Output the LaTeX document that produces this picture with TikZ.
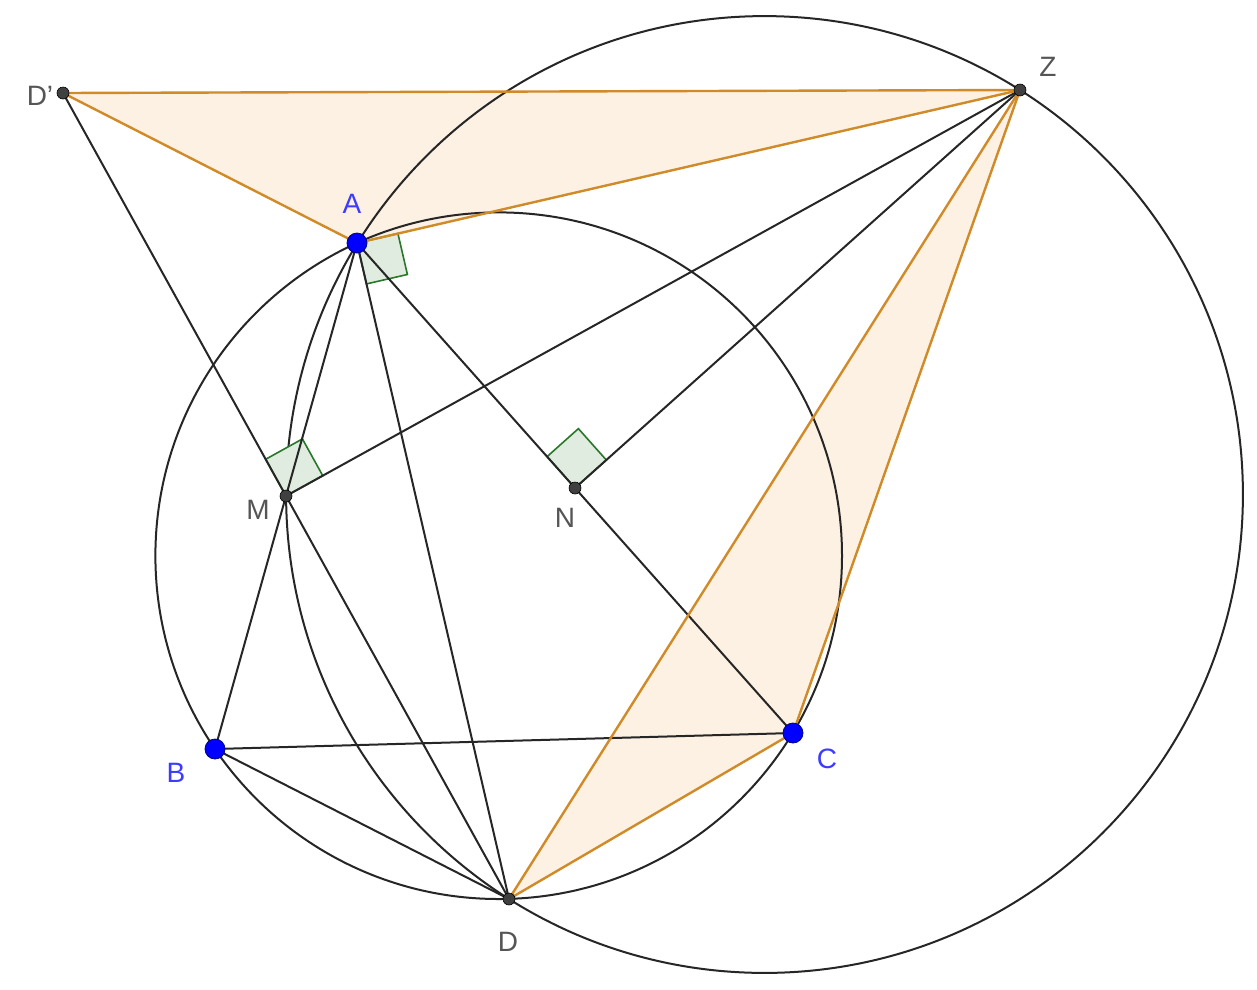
\documentclass[tikz,border=0pt]{standalone}
\usepackage{fontspec}
\setmainfont{Liberation Sans}
\usetikzlibrary{calc}
\definecolor{ggorange}{RGB}{208,138,40}
\definecolor{ggfill}{RGB}{253,241,227}
\definecolor{gggreen}{RGB}{40,120,40}
\definecolor{gggreenfill}{RGB}{224,236,224}
\definecolor{ggblue}{RGB}{0,0,255}
\definecolor{lblblue}{RGB}{60,60,255}
\definecolor{lblgray}{RGB}{85,85,85}
\begin{document}
\begin{tikzpicture}[x=1pt,y=-1pt,
  seg/.style={draw=black!85, line width=2pt},
  oseg/.style={draw=ggorange, line width=2.4pt},
  circ/.style={draw=black!85, line width=2pt},
  rmark/.style={draw=gggreen, fill=gggreenfill, line width=1.6pt},
  freept/.style={circle, fill=ggblue, draw=blue!50!black, line width=0.8pt, inner sep=0pt, minimum size=20pt},
  dept/.style={circle, fill=black!75, draw=black, line width=0.6pt, inner sep=0pt, minimum size=12pt},
  blbl/.style={text=lblblue, font=\fontsize{28}{28}\selectfont},
  glbl/.style={text=lblgray, font=\fontsize{28}{28}\selectfont}]
\useasboundingbox (0,0) rectangle (1257,989);
\fill[white] (0,0) rectangle (1257,989);
% points
\coordinate (A) at (357,243);
\coordinate (B) at (215,749);
\coordinate (C) at (793,733);
\coordinate (D) at (509,899);
\coordinate (Z) at (1020,90);
\coordinate (Dp) at (63,93);
\coordinate (M) at ($(A)!0.5!(B)$);
\coordinate (N) at ($(A)!0.5!(C)$);
\coordinate (O) at (498.7,555.7);
\coordinate (P) at ($(Z)!0.5!(D)$);
% fills
\fill[ggfill] (Dp) -- (A) -- (Z) -- cycle;
\fill[ggfill] (Z) -- (D) -- (C) -- cycle;
% circles
\draw[circ] (O) circle[radius=343.3pt];
\draw[circ] (P) circle[radius=478.4pt];
% right-angle markers
\coordinate (a1) at ($(A)!42pt!(Z)$);
\coordinate (a2) at ($(A)!42pt!(D)$);
\filldraw[rmark] (A) -- (a1) -- ($(a1)+(a2)-(A)$) -- (a2) -- cycle;
\coordinate (m1) at ($(M)!42pt!(Dp)$);
\coordinate (m2) at ($(M)!42pt!(Z)$);
\filldraw[rmark] (M) -- (m1) -- ($(m1)+(m2)-(M)$) -- (m2) -- cycle;
\coordinate (n1) at ($(N)!42pt!(A)$);
\coordinate (n2) at ($(N)!42pt!(Z)$);
\filldraw[rmark] (N) -- (n1) -- ($(n1)+(n2)-(N)$) -- (n2) -- cycle;
% black segments
\draw[seg] (A) -- (M) -- (B);
\draw[seg] (A) -- (D);
\draw[seg] (A) -- (N) -- (C);
\draw[seg] (B) -- (C);
\draw[seg] (B) -- (D);
\draw[seg] (Dp) -- (M) -- (D);
\draw[seg] (M) -- (Z);
\draw[seg] (N) -- (Z);
% orange segments
\draw[oseg] (Dp) -- (Z);
\draw[oseg] (Dp) -- (A);
\draw[oseg] (A) -- (Z);
\draw[oseg] (Z) -- (D);
\draw[oseg] (D) -- (C);
\draw[oseg] (C) -- (Z);
% dots
\node[dept] (pDp) at (Dp) {};
\node[dept] (pZ) at (Z) {};
\node[dept] (pM) at (M) {};
\node[dept] (pN) at (N) {};
\node[dept] (pD) at (D) {};
\node[freept] (pA) at (A) {};
\node[freept] (pB) at (B) {};
\node[freept] (pC) at (C) {};
% labels
\node[blbl] (lA) at (352,204) {A};
\node[blbl] (lB) at (176,773) {B};
\node[blbl] (lC) at (827,759) {C};
\node[glbl] (lDp) at (40,96) {D'};
\node[glbl] (lZ) at (1048,67) {Z};
\node[glbl] (lM) at (258,510) {M};
\node[glbl] (lN) at (565,518) {N};
\node[glbl] (lD) at (508,942) {D};
\end{tikzpicture}
\end{document}
